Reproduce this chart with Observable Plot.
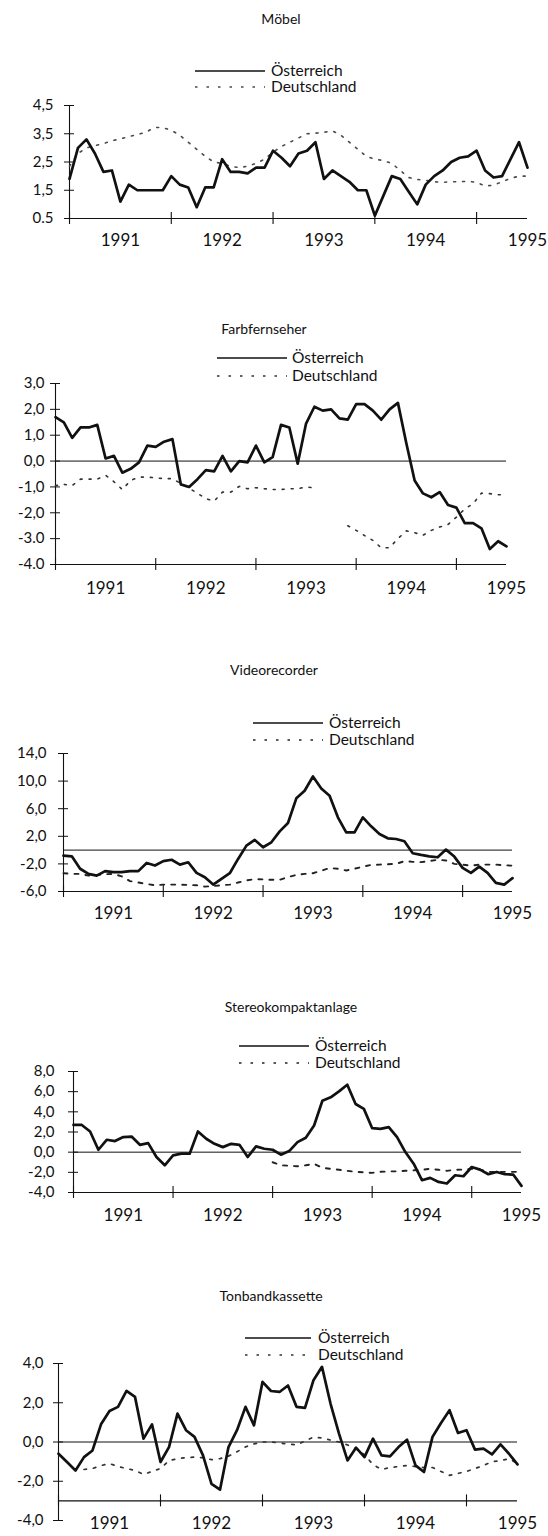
<!DOCTYPE html>
<html><head><meta charset="utf-8">
<script src="https://cdn.jsdelivr.net/npm/d3@7"></script>
<script src="https://cdn.jsdelivr.net/npm/@observablehq/plot@0.6"></script>
<style>
body{margin:0;background:#fff;}
#page{position:relative;width:548px;height:1536px;overflow:hidden;font-family:Lato,"DejaVu Sans",sans-serif;color:#111;}
.title{position:absolute;transform:translate(-50%,-50%);font-size:14px;white-space:nowrap;}
.legtxt{position:absolute;font-size:15.5px;white-space:nowrap;transform:translateY(-52%);line-height:1;}
.legsw{position:absolute;overflow:visible;}
.plotbox{position:absolute;left:0;}
</style></head><body><div id="page"></div>
<script>
// ---------- data ----------
const months = d3.range(0, 55);                 // Jan 1991 ... Jul 1995 (monthly)
const yearLabels = ["1991", "1992", "1993", "1994", "1995"];
const yearTickMonths = [0, 12, 24, 36, 48];
const yearLabelMonths = [6, 18, 30, 42, 54];
const seriesNames = ["Österreich", "Deutschland"];
const titles = ["Möbel", "Farbfernseher", "Videorecorder", "Stereokompaktanlage", "Tonbandkassette"];

const moebelAT = [1.9, 3.0, 3.3, 2.8, 2.15, 2.2, 1.1, 1.7, 1.5, 1.5, 1.5, 1.5, 2.0, 1.7, 1.6, 0.9, 1.6, 1.6, 2.6, 2.15, 2.15, 2.1, 2.3, 2.3, 2.9, 2.65, 2.35, 2.8, 2.9, 3.2, 1.9, 2.2, 2.0, 1.8, 1.5, 1.5, 0.6, 1.3, 2.0, 1.9, 1.45, 1.0, 1.7, 2.0, 2.2, 2.5, 2.65, 2.7, 2.9, 2.2, 1.95, 2.0, 2.6, 3.2, 2.3];
const moebelDE = [2.35, 2.8, 3.0, 3.08, 3.15, 3.25, 3.32, 3.4, 3.47, 3.55, 3.72, 3.72, 3.62, 3.45, 3.2, 2.95, 2.7, 2.5, 2.45, 2.35, 2.3, 2.35, 2.45, 2.6, 2.85, 3.05, 3.2, 3.35, 3.5, 3.52, 3.55, 3.6, 3.45, 3.2, 2.95, 2.7, 2.6, 2.55, 2.45, 2.2, 1.95, 1.88, 1.85, 1.8, 1.78, 1.8, 1.8, 1.82, 1.78, 1.65, 1.68, 1.8, 1.92, 2.0, 2.0];

const farbAT = [1.7, 1.5, 0.9, 1.3, 1.3, 1.4, 0.1, 0.2, -0.45, -0.3, -0.05, 0.6, 0.55, 0.75, 0.85, -0.9, -1.0, -0.7, -0.35, -0.4, 0.2, -0.4, 0.0, -0.05, 0.6, -0.05, 0.15, 1.4, 1.3, -0.1, 1.45, 2.1, 1.95, 2.0, 1.65, 1.6, 2.2, 2.2, 1.95, 1.6, 2.0, 2.25, 0.7, -0.75, -1.25, -1.4, -1.2, -1.7, -1.8, -2.4, -2.4, -2.6, -3.4, -3.1, -3.3];
const farbDE = [-0.95, -0.9, -0.95, -0.7, -0.7, -0.7, -0.55, -0.8, -1.1, -0.75, -0.62, -0.62, -0.65, -0.68, -0.68, -0.87, -1.05, -1.25, -1.45, -1.55, -1.2, -1.2, -0.98, -1.07, -1.03, -1.07, -1.1, -1.1, -1.07, -1.07, -1.0, -1.04, null, null, null, -2.5, -2.68, -2.88, -3.07, -3.35, -3.35, -3.0, -2.7, -2.77, -2.87, -2.68, -2.55, -2.45, -2.17, -1.85, -1.65, -1.24, -1.26, -1.3, -1.3];

const videoAT = [-0.8, -0.9, -2.7, -3.45, -3.7, -3.05, -3.2, -3.2, -3.05, -3.05, -1.86, -2.24, -1.6, -1.4, -2.1, -1.76, -3.3, -3.93, -5.0, -4.17, -3.35, -1.28, 0.65, 1.47, 0.41, 1.13, 2.72, 3.93, 7.5, 8.6, 10.67, 8.94, 7.88, 4.75, 2.58, 2.58, 4.75, 3.45, 2.34, 1.71, 1.61, 1.28, -0.46, -0.7, -0.9, -1.04, 0.07, -0.94, -2.58, -3.3, -2.39, -3.3, -4.75, -5.0, -4.07];
const videoDE = [-3.35, -3.45, -3.45, -3.7, -3.6, -3.5, -3.45, -3.8, -4.5, -4.7, -4.9, -5.1, -5.0, -5.0, -5.0, -5.05, -5.1, -5.3, -5.2, -5.1, -5.0, -4.7, -4.4, -4.2, -4.25, -4.3, -4.3, -3.9, -3.6, -3.45, -3.35, -3.0, -2.6, -2.7, -2.95, -2.7, -2.4, -2.15, -2.1, -2.05, -2.0, -1.6, -1.7, -1.75, -1.6, -1.4, -1.5, -2.0, -2.1, -2.25, -2.1, -2.1, -2.1, -2.2, -2.25];

const stereoAT = [2.7, 2.7, 2.05, 0.24, 1.23, 1.1, 1.5, 1.55, 0.73, 0.9, -0.48, -1.3, -0.32, -0.15, -0.15, 2.05, 1.33, 0.83, 0.5, 0.83, 0.73, -0.48, 0.57, 0.34, 0.24, -0.25, 0.11, 1.0, 1.43, 2.64, 5.1, 5.44, 6.03, 6.69, 4.78, 4.29, 2.38, 2.31, 2.48, 1.49, 0.01, -1.14, -2.78, -2.55, -2.95, -3.11, -2.29, -2.39, -1.47, -1.73, -2.19, -1.96, -2.19, -2.22, -3.34];
const stereoDE = [null, null, null, null, null, null, null, null, null, null, null, null, null, null, null, null, null, null, null, null, null, null, null, null, -1.0, -1.3, -1.35, -1.4, -1.3, -1.15, -1.55, -1.65, -1.75, -1.85, -1.95, -2.0, -2.05, -1.95, -1.9, -1.9, -1.85, -1.8, -1.75, -1.65, -1.75, -1.85, -1.75, -1.73, -1.65, -1.73, -1.95, -1.95, -1.95, -1.95, -1.95];

const tonAT = [-0.6, -1.02, -1.45, -0.77, -0.43, 0.9, 1.58, 1.79, 2.6, 2.3, 0.17, 0.9, -1.02, -0.26, 1.45, 0.6, 0.26, -0.68, -2.13, -2.43, -0.26, 0.6, 1.79, 0.85, 3.06, 2.6, 2.55, 2.88, 1.79, 1.74, 3.15, 3.83, 1.96, 0.43, -0.94, -0.29, -0.77, 0.17, -0.68, -0.73, -0.26, 0.12, -1.19, -1.53, 0.26, 0.97, 1.62, 0.46, 0.6, -0.39, -0.34, -0.63, -0.12, -0.6, -1.14];
const tonDE = [null, null, null, -1.4, -1.35, -1.2, -1.1, -1.25, -1.35, -1.45, -1.65, -1.5, -1.35, -0.95, -0.85, -0.8, -0.77, -0.8, -0.9, -0.85, -0.72, -0.5, -0.25, -0.1, 0, 0, -0.05, -0.1, -0.15, 0.05, 0.25, 0.2, 0.1, 0.0, -0.15, -0.35, -0.65, -1.15, -1.4, -1.3, -1.25, -1.2, -1.25, -1.3, -1.3, -1.5, -1.7, -1.6, -1.5, -1.35, -1.2, -1.0, -0.95, -0.85, -1.1];

const moebelTicks = [0.5, 1.5, 2.5, 3.5, 4.5];
const moebelTickLabels = ["0.5", "1,5", "2,5", "3,5", "4,5"];
const farbTicks = [-4, -3, -2, -1, 0, 1, 2, 3];
const farbTickLabels = ["-4.0", "-3.0", "-2,0", "-1,0", "0,0", "1,0", "2,0", "3,0"];
const videoTicks = [-6, -2, 2, 6, 10, 14];
const videoTickLabels = ["-6,0", "-2,0", "2,0", "6,0", "10,0", "14,0"];
const stereoTicks = [-4, -2, 0, 2, 4, 6, 8];
const stereoTickLabels = ["-4,0", "-2,0", "0,0", "2,0", "4,0", "6,0", "8,0"];
const tonTicks = [-4, -2, 0, 2, 4];
const tonTickLabels = ["-4,0", "-2,0", "0,0", "2,0", "4,0"];

// ---------- layout (positions / styles only) ----------
const layout = [
  {at: moebelAT, de: moebelDE, ticks: moebelTicks, labels: moebelTickLabels, dom: [0.5, 4.5], axisAt: 0.5, zero: false,
   svgTop: 95, mL: 69, mR: 21, plotH: 113, mB: 42, dy: 27, pad: 16,
   tx: 281, ty: 18, lx1: 195, lx2: 265, ly: [71, 87], ltx: 271,
   deInk: "#4a4a4a", deW: 1.6, deDash: "2,7"},
  {at: farbAT, de: farbDE, ticks: farbTicks, labels: farbTickLabels, dom: [-4, 3], axisAt: -4, zero: true,
   svgTop: 373, mL: 55, mR: 42, plotH: 181, mB: 42, dy: 29, pad: 11,
   tx: 264, ty: 328, lx1: 217, lx2: 287, ly: [358, 376], ltx: 292,
   deInk: "#333", deW: 1.6, deDash: "2,7"},
  {at: videoAT, de: videoDE, ticks: videoTicks, labels: videoTickLabels, dom: [-6, 14], axisAt: -6, zero: true,
   svgTop: 743, mL: 63, mR: 36, plotH: 138, mB: 42, dy: 27, pad: 17,
   tx: 274, ty: 669, lx1: 253, lx2: 323, ly: [723, 740], ltx: 329,
   deInk: "#222", deW: 1.9, deDash: "4,7"},
  {at: stereoAT, de: stereoDE, ticks: stereoTicks, labels: stereoTickLabels, dom: [-4, 8], axisAt: -4, zero: true,
   svgTop: 1061, mL: 73, mR: 27, plotH: 121, mB: 42, dy: 28, pad: 19,
   tx: 291, ty: 1006, lx1: 239, lx2: 309, ly: [1046, 1063], ltx: 315,
   deInk: "#222", deW: 1.9, deDash: "4,7"},
  {at: tonAT, de: tonDE, ticks: tonTicks, labels: tonTickLabels, dom: [-4, 4], axisAt: -3, zero: true,
   svgTop: 1353, mL: 58, mR: 31, plotH: 157, mB: 16, dy: 8, pad: 15,
   tx: 271, ty: 1295, lx1: 245, lx2: 311, ly: [1338, 1355], ltx: 318,
   deInk: "#333", deW: 1.7, deDash: "2.5,7"}
];

const INK = "#111";
const FONT = 'Lato, "DejaVu Sans", sans-serif';
const page = document.getElementById("page");

layout.forEach((p, k) => {
  // title
  const t = document.createElement("div");
  t.className = "title";
  t.style.left = p.tx + "px"; t.style.top = p.ty + "px";
  t.textContent = titles[k];
  page.appendChild(t);

  // legend
  seriesNames.forEach((name, j) => {
    const y = p.ly[j];
    const sw = document.createElementNS("http://www.w3.org/2000/svg", "svg");
    sw.setAttribute("class", "legsw");
    sw.setAttribute("width", p.lx2 - p.lx1);
    sw.setAttribute("height", 6);
    sw.style.left = p.lx1 + "px"; sw.style.top = (y - 3) + "px";
    const ln = document.createElementNS("http://www.w3.org/2000/svg", "line");
    ln.setAttribute("x1", 0); ln.setAttribute("x2", p.lx2 - p.lx1);
    ln.setAttribute("y1", 3); ln.setAttribute("y2", 3);
    ln.setAttribute("stroke", j === 0 ? INK : p.deInk);
    ln.setAttribute("stroke-width", 1.6);
    if (j === 1) ln.setAttribute("stroke-dasharray", "2.5,9");
    sw.appendChild(ln);
    page.appendChild(sw);
    const tx = document.createElement("div");
    tx.className = "legtxt";
    tx.style.left = p.ltx + "px"; tx.style.top = y + "px";
    tx.textContent = name;
    page.appendChild(tx);
  });

  const rowsAT = months.map(m => ({m, v: p.at[m] == null ? NaN : p.at[m]}));
  const rowsDE = months.map(m => ({m, v: p.de[m] == null ? NaN : p.de[m]}));
  const labelMap = new Map(p.ticks.map((v, i) => [v, p.labels[i]]));
  const mT = 10;

  const chart = Plot.plot({
    width: 548,
    height: mT + p.plotH + p.mB,
    marginTop: mT, marginBottom: p.mB, marginLeft: p.mL, marginRight: p.mR,
    x: {domain: [0, 54], axis: null},
    y: {domain: p.dom, axis: null},
    style: {fontFamily: FONT, fontSize: "15px", color: INK, background: "transparent", overflow: "visible"},
    marks: [
      Plot.axisY({ticks: p.ticks, tickFormat: d => labelMap.get(d), tickSize: 0, tickPadding: p.pad, fontSize: 15, label: null}),
      Plot.ruleY(p.ticks, {y: d => d, x1: () => 0, x2: () => 0, insetLeft: -5, insetRight: -5, stroke: INK, strokeWidth: 1}),
      Plot.ruleX([0], {x: d => d, stroke: INK, strokeWidth: 1.1}),
      Plot.ruleY([p.axisAt], {y: d => d, stroke: INK, strokeWidth: 1.1}),
      p.zero ? Plot.ruleY([0], {y: d => d, stroke: INK, strokeWidth: 1}) : null,
      Plot.ruleX(yearTickMonths, {x: d => d, y1: () => p.axisAt, y2: () => p.axisAt, insetTop: -6, insetBottom: -6, stroke: INK, strokeWidth: 1.1}),
      Plot.text(yearLabelMonths, {x: d => d, text: (d, i) => yearLabels[i], frameAnchor: "bottom", dy: p.dy, fontSize: 17, fill: INK}),
      Plot.line(rowsDE, {x: "m", y: "v", stroke: p.deInk, strokeWidth: p.deW, strokeDasharray: p.deDash}),
      Plot.line(rowsAT, {x: "m", y: "v", stroke: INK, strokeWidth: 2.7, strokeLinejoin: "round"})
    ]
  });
  const box = document.createElement("div");
  box.className = "plotbox";
  box.style.top = p.svgTop + "px";
  box.appendChild(chart);
  page.appendChild(box);
});
</script>
</body></html>
